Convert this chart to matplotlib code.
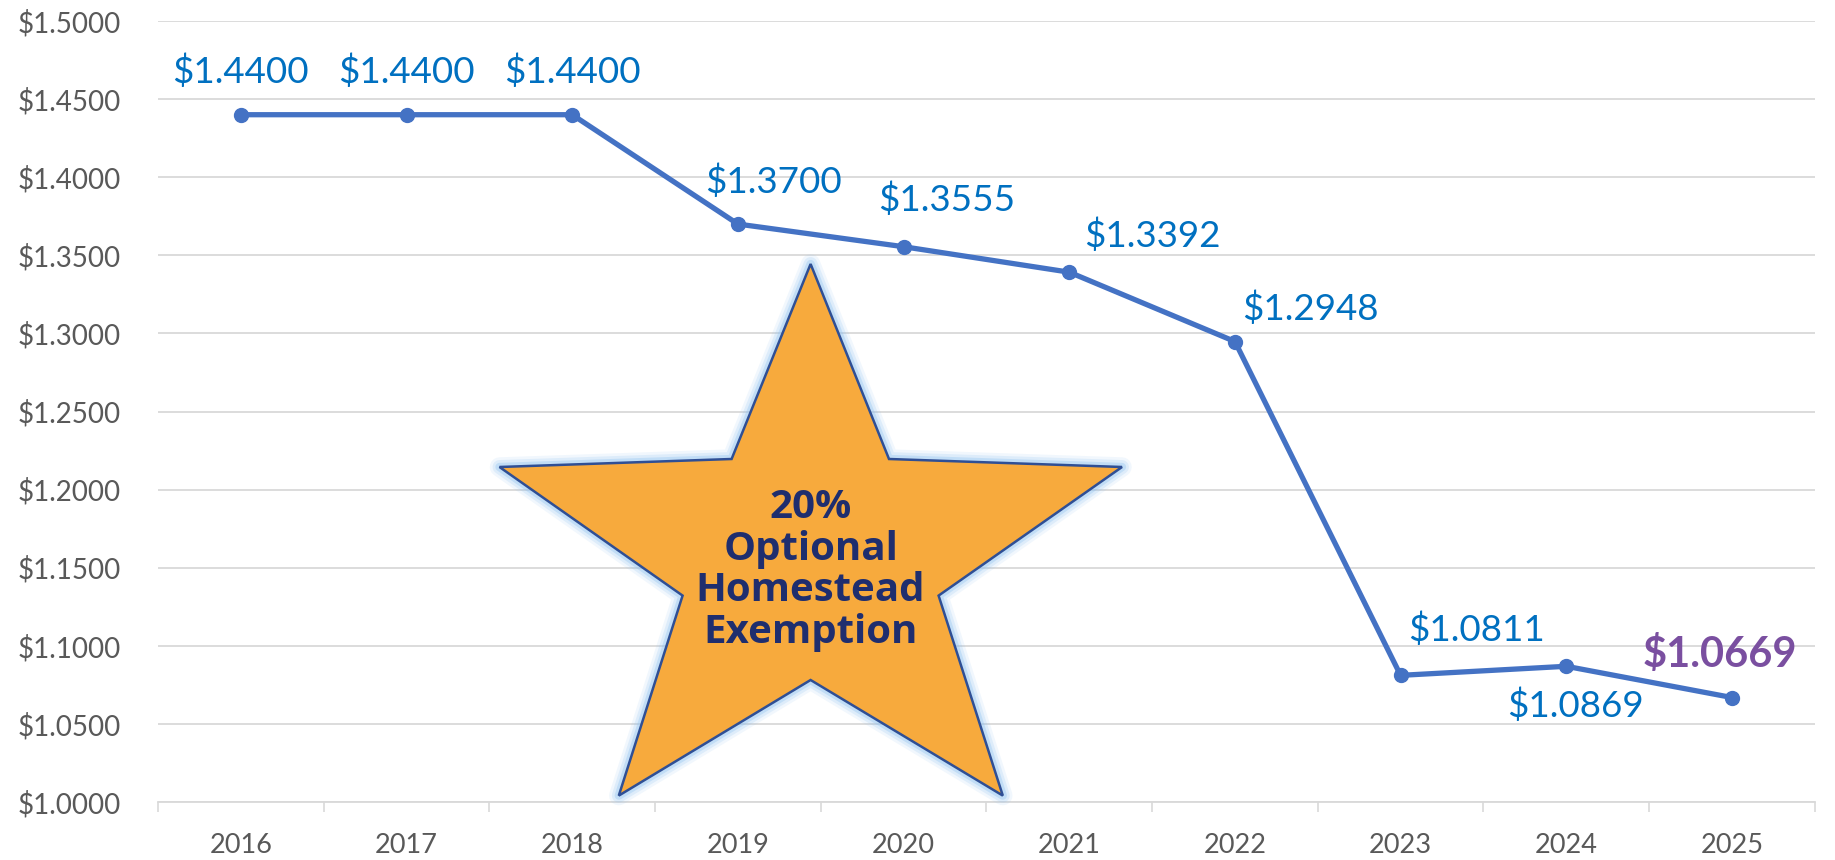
import numpy as np
import matplotlib
matplotlib.use("Agg")
import matplotlib.pyplot as plt
from matplotlib.patches import Polygon

# data
years = ["2016", "2017", "2018", "2019", "2020", "2021", "2022", "2023", "2024", "2025"]
rates = [1.4400, 1.4400, 1.4400, 1.3700, 1.3555, 1.3392, 1.2948, 1.0811, 1.0869, 1.0669]
yticks = [1.00, 1.05, 1.10, 1.15, 1.20, 1.25, 1.30, 1.35, 1.40, 1.45, 1.50]

# label offsets from the point (pixels)
label_offsets = [(0, 43), (0, 43), (0, 43), (36, 42), (43, 47), (83, 36),
                 (75, 33), (76, 46), (9, -39), (-12, 43)]

plt.rcParams['font.family'] = ['Lato', 'DejaVu Sans']

fig = plt.figure(figsize=(18.35, 8.6), dpi=100)
ax = fig.add_axes([0.0861, 0.0674, 0.9029, 0.9082])

grid_c = "#D9D9D9"
x = np.arange(len(years))
ax.plot(x, rates, color="#4472C4", lw=3.8, marker="o", ms=10, zorder=5)

ax.set_xlim(-0.5, len(years) - 0.5)
ax.set_ylim(1.0, 1.5)
ax.set_yticks(yticks)
ax.set_yticklabels([f"${v:.4f}" for v in yticks])
ax.set_xticks(x)
ax.set_xticklabels(years)
ax.set_xticks(np.arange(-0.5, len(years)), minor=True)
ax.tick_params(axis="x", which="major", length=0, pad=22, labelsize=19.5, labelcolor="#595959")
ax.tick_params(axis="x", which="minor", length=7.5, width=1.2, color=grid_c)
ax.tick_params(axis="y", length=0, pad=27, labelsize=20, labelcolor="#595959")
ax.grid(axis="y", color=grid_c, lw=1.3)
ax.set_axisbelow(True)
for s in ["left", "right", "top"]:
    ax.spines[s].set_visible(False)
ax.spines["bottom"].set_color(grid_c)
ax.spines["bottom"].set_linewidth(1.3)

for i, (v, off) in enumerate(zip(rates, label_offsets)):
    last = i == len(rates) - 1
    ax.annotate(f"${v:.4f}", (x[i], v), xytext=off, textcoords="offset pixels",
                ha="center", va="center",
                fontsize=30 if last else 26.5,
                fontweight="bold" if last else "normal",
                color="#7A4FA0" if last else "#0070C0", zorder=6)

# star (figure pixel coordinates, y from top)
W, H = 1835, 860
star_px = [(810.6, 264), (889, 459), (1122, 467), (938.6, 595.6), (1002.8, 795.6),
           (810.6, 680), (618.8, 795.6), (682.6, 595.6), (499.5, 467), (731.6, 459)]
star = [(px / W, 1 - py / H) for px, py in star_px]
for lw, a in [(14, 0.12), (10, 0.2), (6, 0.35)]:
    fig.patches.append(Polygon(star, closed=True, transform=fig.transFigure,
                               facecolor="none", edgecolor="#8FC1F0", lw=lw,
                               alpha=a, joinstyle="round", zorder=3))
fig.patches.append(Polygon(star, closed=True, transform=fig.transFigure,
                           facecolor="#F7AA3D", edgecolor="#2F4F95", lw=1.8, zorder=4))
fig.text(810.6 / W, 1 - 570 / H, "20%\nOptional\nHomestead\nExemption",
         ha="center", va="center", fontsize=29, fontweight="bold",
         family=["Open Sans", "DejaVu Sans"], color="#1F2E6E", linespacing=1.08, zorder=7)

fig.savefig("out.png", dpi=100)
